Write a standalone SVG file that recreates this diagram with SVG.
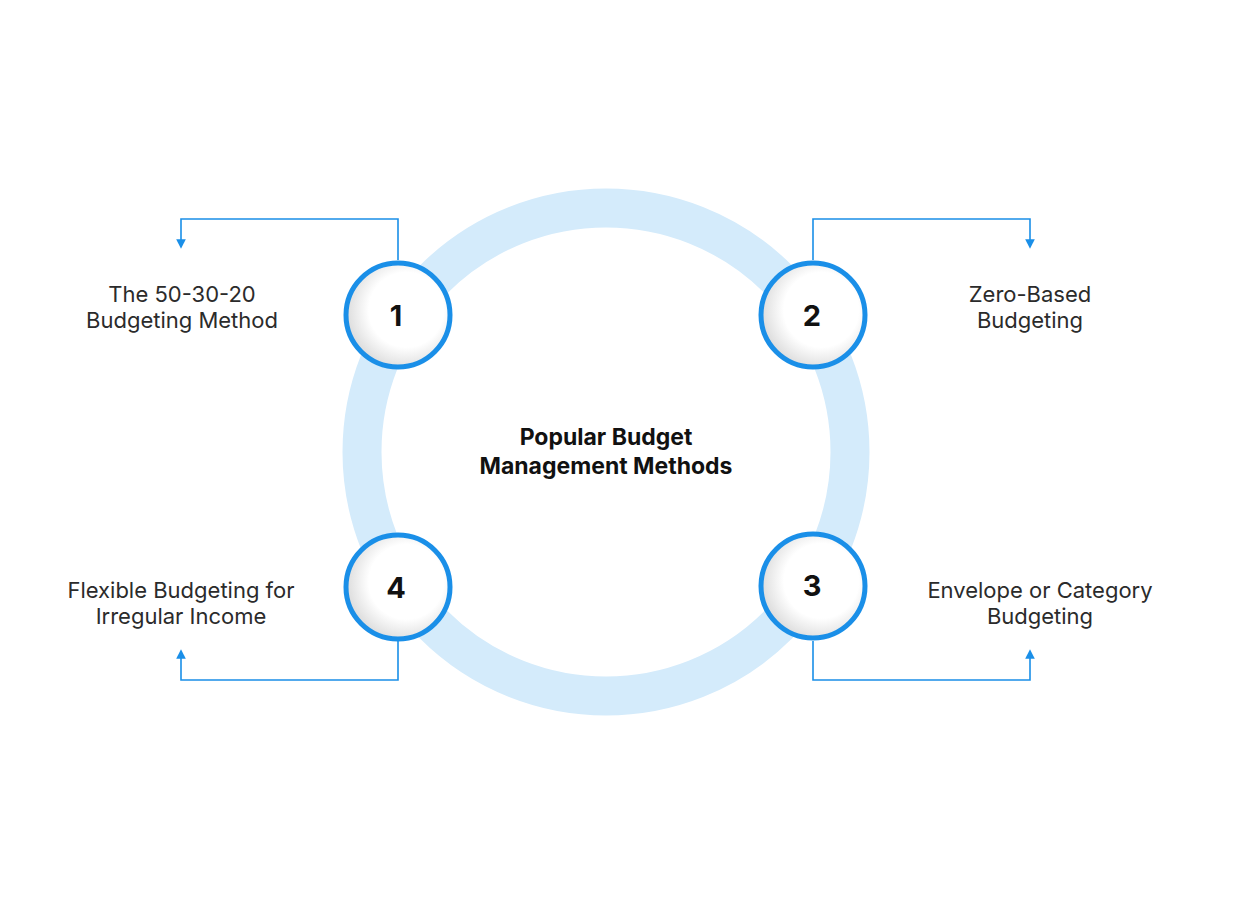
<svg xmlns="http://www.w3.org/2000/svg" width="1260" height="904" viewBox="0 0 1260 904">
<defs>
<style>
.lbl{font-family:Inter,"Liberation Sans",sans-serif;font-size:22px;fill:#2b2b2b;text-anchor:middle}
.num{font-family:Inter,"Liberation Sans",sans-serif;font-size:29px;font-weight:700;fill:#111;text-anchor:middle}
.ttl{font-family:Inter,"Liberation Sans",sans-serif;font-size:23px;font-weight:700;fill:#111;text-anchor:middle}
.conn{fill:none;stroke:#1a8fe8;stroke-width:1.6}
.node{fill:url(#g);stroke:#1a8fe8;stroke-width:5}
</style>
<radialGradient id="g" cx="0.58" cy="0.45" r="0.6">
<stop offset="0.6" stop-color="#ffffff"/>
<stop offset="1" stop-color="#d9d9d9"/>
</radialGradient>
<marker id="a" viewBox="0 0 10 10" refX="5" refY="5" markerWidth="6" markerHeight="6" orient="auto">
<path d="M0,0 L10,5 L0,10 z" fill="#1a8fe8"/>
</marker>
</defs>
<rect width="1260" height="904" fill="#fff"/>
<circle cx="606" cy="452" r="244" fill="none" stroke="#d4ebfb" stroke-width="39"/>
<text class="ttl" x="606" y="445">Popular Budget</text>
<text class="ttl" x="606" y="474">Management Methods</text>
<g id="connectors">
<path class="conn" d="M398,260 V219 H181 V244" marker-end="url(#a)"/>
<path class="conn" d="M813,260 V219 H1030 V244" marker-end="url(#a)"/>
<path class="conn" d="M813,641 V680 H1030 V654" marker-end="url(#a)"/>
<path class="conn" d="M398,641 V680 H181 V654" marker-end="url(#a)"/>
</g>
<g id="node1"><circle class="node" cx="398" cy="315" r="52"/><text class="num" x="396" y="326">1</text></g>
<g id="node2"><circle class="node" cx="813" cy="315" r="52"/><text class="num" x="812" y="326">2</text></g>
<g id="node3"><circle class="node" cx="813" cy="586" r="52"/><text class="num" x="812" y="596">3</text></g>
<g id="node4"><circle class="node" cx="398" cy="587" r="52"/><text class="num" x="396" y="598">4</text></g>
<g id="label1"><text class="lbl" x="182" y="302">The 50-30-20</text><text class="lbl" x="182" y="328">Budgeting Method</text></g>
<g id="label2"><text class="lbl" x="1030" y="302">Zero-Based</text><text class="lbl" x="1030" y="328">Budgeting</text></g>
<g id="label3"><text class="lbl" x="1040" y="598">Envelope or Category</text><text class="lbl" x="1040" y="624">Budgeting</text></g>
<g id="label4"><text class="lbl" x="181" y="598">Flexible Budgeting for</text><text class="lbl" x="181" y="624">Irregular Income</text></g>
</svg>
